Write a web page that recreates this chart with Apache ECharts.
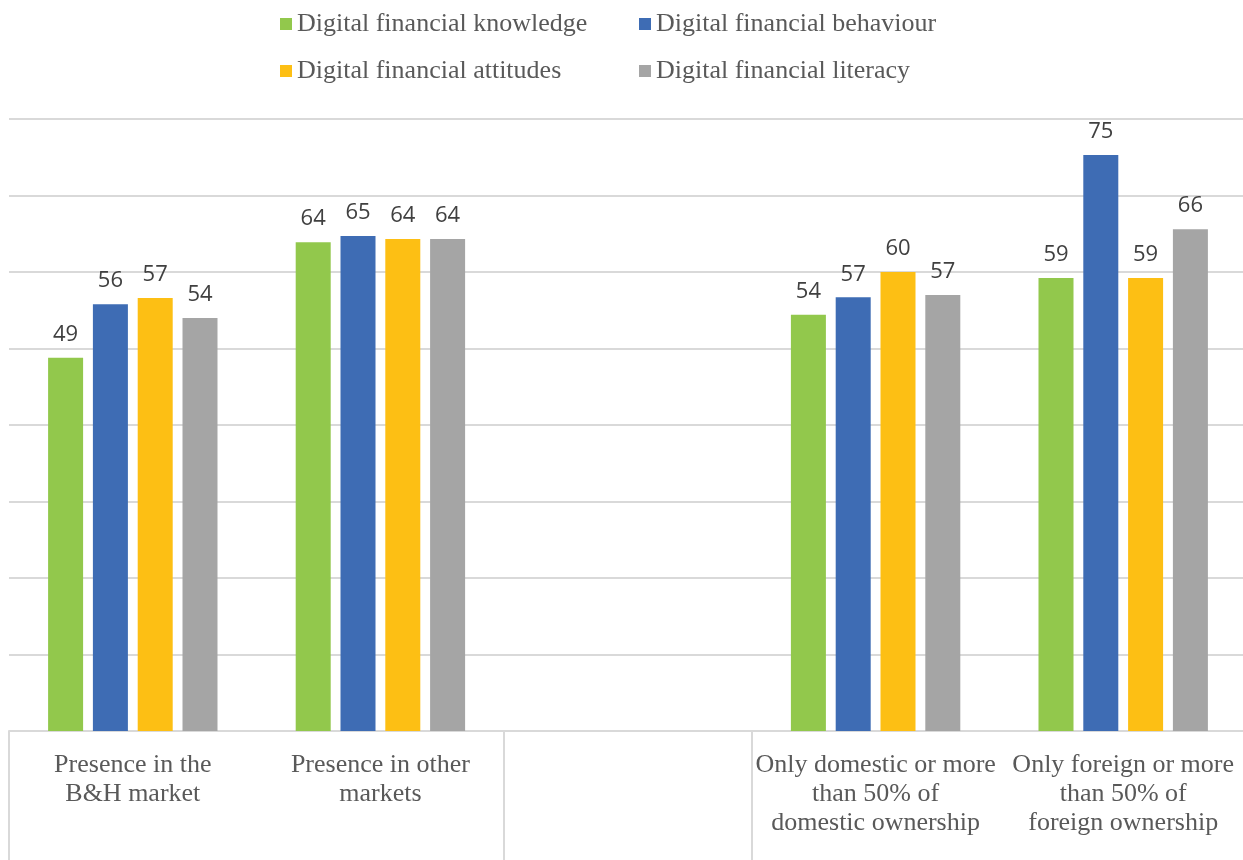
<!DOCTYPE html>
<html>
<head>
<meta charset="utf-8">
<script src="https://cdn.jsdelivr.net/npm/echarts@6/dist/echarts.min.js"></script>
<style>html,body{margin:0;padding:0;background:#fff;overflow:hidden}#c{width:1252px;height:860px}</style>
</head>
<body>
<div id="c"></div>
<script>
const categories = [
  'Presence in the\nB&H market',
  'Presence in other\nmarkets',
  '',
  'Only domestic or more\nthan 50% of\ndomestic ownership',
  'Only foreign or more\nthan 50% of\nforeign ownership'
];
const seriesNames = [
  'Digital financial knowledge',
  'Digital financial behaviour',
  'Digital financial attitudes',
  'Digital financial literacy'
];
const knowledge = [48.8, 63.9, null, 54.4, 59.2];
const behaviour = [55.8, 64.7, null, 56.7, 75.3];
const attitudes = [56.6, 64.3, null, 60.0, 59.2];
const literacy  = [54.0, 64.3, null, 57.0, 65.6];
const colors = ['#92c84c', '#3e6cb4', '#fdbf14', '#a5a5a5'];
const dividerTicks = [0, 2, 3];

const values = [knowledge, behaviour, attitudes, literacy];
const chart = echarts.init(document.getElementById('c'));
const legendPos = [[275, 6], [634, 6], [275, 53], [634, 53]];
chart.setOption({
  animation: false,
  legend: seriesNames.map((n, i) => ({
    data: [n],
    left: legendPos[i][0],
    top: legendPos[i][1],
    itemWidth: 12,
    itemHeight: 12,
    icon: 'rect',
    textStyle: { fontFamily: 'Liberation Serif', fontSize: 26, color: '#595959' }
  })),
  grid: { left: 9, top: 119, width: 1238, height: 612, containLabel: false },
  xAxis: {
    type: 'category',
    data: categories,
    axisLine: { lineStyle: { color: '#d9d9d9', width: 2 } },
    axisTick: {
      show: true,
      length: 130,
      interval: (idx) => dividerTicks.includes(idx),
      lineStyle: { color: '#d9d9d9', width: 2 }
    },
    axisLabel: {
      interval: 0,
      margin: 20,
      fontFamily: 'Liberation Serif',
      fontSize: 26,
      lineHeight: 29,
      color: '#595959'
    }
  },
  yAxis: {
    type: 'value',
    min: 0, max: 80, interval: 10,
    axisLabel: { show: false },
    axisLine: { show: false },
    axisTick: { show: false },
    splitLine: { lineStyle: { color: '#d9d9d9', width: 2 } }
  },
  series: seriesNames.map((n, i) => ({
    name: n,
    type: 'bar',
    data: values[i],
    barWidth: 35,
    barGap: '28%',
    itemStyle: { color: colors[i] },
    label: {
      show: true,
      position: 'top',
      distance: 12,
      fontFamily: 'Open Sans',
      fontSize: 22,
      color: '#404040',
      formatter: p => Math.round(p.value)
    }
  }))
});
</script>
</body>
</html>
